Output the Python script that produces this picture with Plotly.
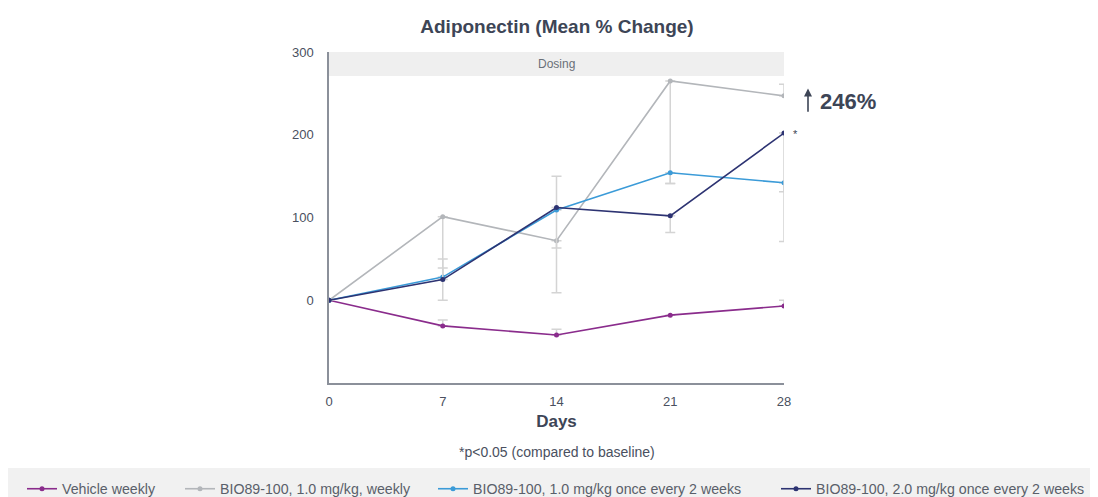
import plotly.graph_objects as go

days = [0, 7, 14, 21, 28]
series_names = [
    "Vehicle weekly",
    "BIO89-100, 1.0 mg/kg, weekly",
    "BIO89-100, 1.0 mg/kg once every 2 weeks",
    "BIO89-100, 2.0 mg/kg once every 2 weeks",
]
vehicle = [0, -31, -42, -18, -7]
bio_1_weekly = [0, 101, 72, 265, 247]
bio_1_q2w = [0, 28, 109, 154, 142]
bio_2_q2w = [0, 25, 112, 102, 202]

vehicle_err_up = [0, 7, 7, 0, 7]
vehicle_err_dn = [0, 0, 0, 0, 0]
bio_1_weekly_err_up = [0, 0, 0, 0, 14]
bio_1_weekly_err_dn = [0, 101, 63, 124, 0]
bio_1_q2w_err_up = [0, 22, 0, 0, 0]
bio_1_q2w_err_dn = [0, 0, 46, 13, 11]
bio_2_q2w_err_up = [0, 14, 38, 0, 0]
bio_2_q2w_err_dn = [0, 0, 0, 20, 131]

y_ticks = [0, 100, 200, 300]
x_ticks = [0, 7, 14, 21, 28]

colors = ["#8a2c8c", "#b3b6ba", "#3b9bd8", "#2d3372"]
values = [vehicle, bio_1_weekly, bio_1_q2w, bio_2_q2w]
errs_up = [vehicle_err_up, bio_1_weekly_err_up, bio_1_q2w_err_up, bio_2_q2w_err_up]
errs_dn = [vehicle_err_dn, bio_1_weekly_err_dn, bio_1_q2w_err_dn, bio_2_q2w_err_dn]

FONT = "Liberation Sans, Arial, sans-serif"
TXT = "#4a5060"
DARK = "#3d4556"

# page body has an 8px margin; figure is sized to fit the window
OFF = 8
FW, FH = 1098 - OFF, 497 - OFF

# plot area in reference-window pixels
L, R, T, B = 329, 784, 52, 383
W, H = R - L, B - T

def px_x(p):
    return (p - L) / W

def px_y(p):
    return (B - p) / H

legend_ids = ["legend", "legend2", "legend3", "legend4"]
legend_line_starts = [27, 185, 438, 781]

fig = go.Figure()
for name, vals, up, dn, c, lid in zip(series_names, values, errs_up, errs_dn, colors, legend_ids):
    fig.add_trace(go.Scatter(
        x=days, y=vals, name=name, mode="lines+markers",
        line=dict(color=c, width=1.6),
        marker=dict(color=c, size=5),
        error_y=dict(type="data", symmetric=False, array=up, arrayminus=dn,
                     color="#d4d4d4", thickness=1.5, width=5),
        legend=lid,
    ))

# Dosing band
fig.add_shape(type="rect", xref="x", yref="y", x0=0, x1=28, y0=271, y1=300,
              fillcolor="#efefef", line_width=0, layer="below")
fig.add_annotation(x=14, y=285.5, xref="x", yref="y", text="Dosing", showarrow=False,
                   font=dict(size=12, color="#6a6f78", family=FONT))

# Legend band
fig.add_shape(type="rect", xref="paper", yref="paper",
              x0=px_x(7), x1=px_x(1100), y0=px_y(500), y1=px_y(468),
              fillcolor="#f1f1f1", line_width=0, layer="below")

# 246% annotation
fig.add_annotation(x=28, y=bio_1_weekly[4] + 9, ax=28, ay=bio_1_weekly[4] - 21,
                   xref="x", yref="y", axref="x", ayref="y",
                   text="", showarrow=True, arrowhead=2, arrowsize=1, arrowwidth=1.6,
                   arrowcolor=DARK, xshift=24)
fig.add_annotation(x=28, y=bio_1_weekly[4], xref="x", yref="y", text="<b>246%</b>",
                   showarrow=False, xanchor="left", xshift=34, yshift=-6,
                   font=dict(size=22, color=DARK, family=FONT))
fig.add_annotation(x=28, y=bio_2_q2w[4], xref="x", yref="y", text="*",
                   showarrow=False, xanchor="left", xshift=7, yshift=-1,
                   font=dict(size=11, color=DARK, family=FONT))

# Footnote
fig.add_annotation(x=px_x(557), y=px_y(452), xref="paper", yref="paper",
                   xanchor="center", yanchor="middle",
                   text="*p<0.05 (compared to baseline)", showarrow=False,
                   font=dict(size=14, color=TXT, family=FONT))

layout_legends = {}
for lid, start in zip(legend_ids, legend_line_starts):
    layout_legends[lid] = dict(
        orientation="h", x=px_x(start - 5), xanchor="left",
        y=px_y(489), yanchor="middle", bgcolor="rgba(0,0,0,0)",
        font=dict(size=14.2, color="#5a5f6a", family=FONT),
    )

fig.update_layout(
    width=FW, height=FH,
    margin=dict(l=L - OFF, r=FW - (R - OFF), t=T - OFF, b=FH - (B - OFF), autoexpand=False),
    paper_bgcolor="white", plot_bgcolor="white",
    font=dict(family=FONT, color=TXT),
    title=dict(text="<b>Adiponectin (Mean % Change)</b>", x=(557 - OFF) / FW, xanchor="center",
               y=1 - (26 - OFF) / FH, yanchor="middle",
               font=dict(size=19, color=DARK, family=FONT)),
    xaxis=dict(range=[0, 28], tickvals=x_ticks, showgrid=False, zeroline=False,
               showline=True, linecolor="#8b909a", linewidth=1.5,
               ticks="", tickfont=dict(size=13, color=TXT), ticklabelstandoff=6,
               title=dict(text="<b>Days</b>", font=dict(size=17, color=DARK), standoff=7)),
    yaxis=dict(range=[-100, 300], tickvals=y_ticks, showgrid=False, zeroline=False,
               showline=True, linecolor="#8b909a", linewidth=1.5,
               ticks="", tickfont=dict(size=13, color=TXT), ticklabelstandoff=11),
    showlegend=True,
    **layout_legends,
)

fig.write_html("out.html")
